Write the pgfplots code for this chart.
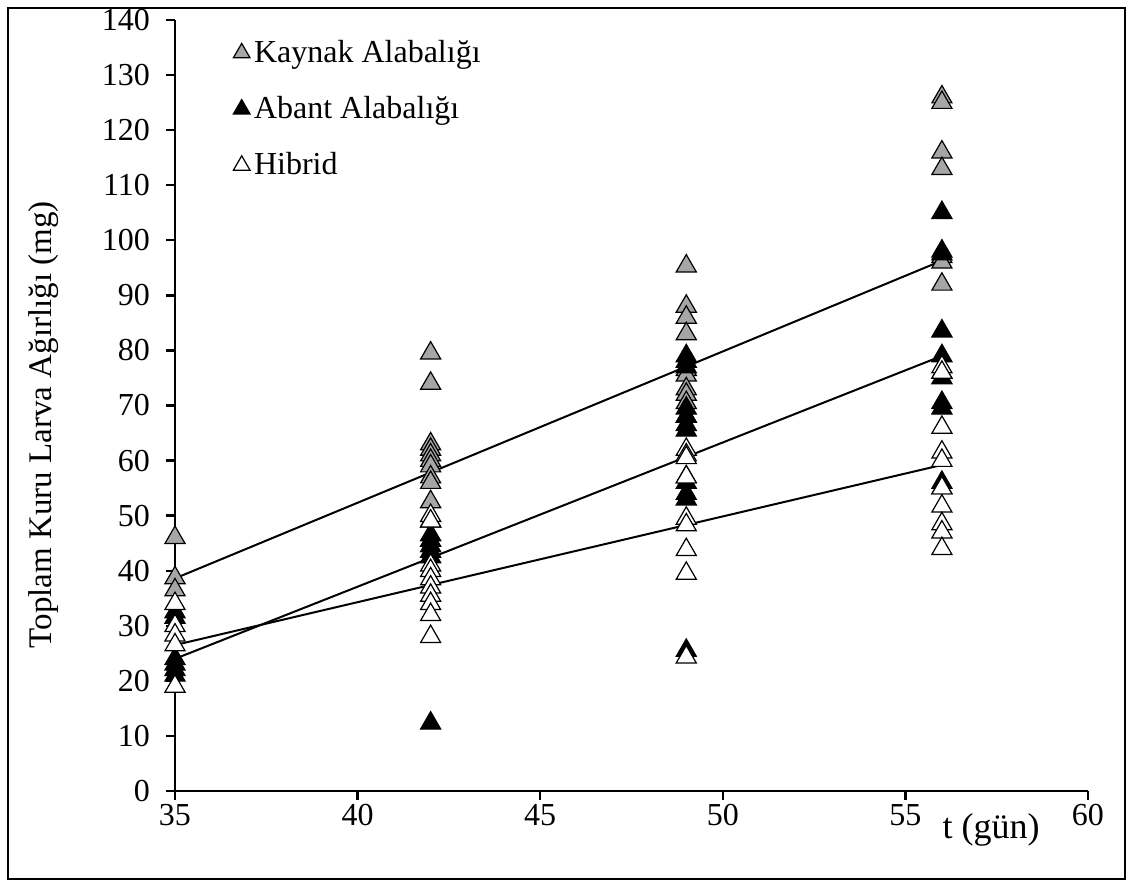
\documentclass[border=0pt]{standalone}
\usepackage{pgfplots}
\pgfplotsset{compat=1.18}
\usepackage{fontspec}
\setmainfont{Liberation Serif}
\definecolor{kgray}{RGB}{166,166,166}
\begin{document}
\begin{tikzpicture}
\useasboundingbox (-87.5pt,-48pt) rectangle (478.5pt,395.5pt);
\draw[line width=1pt] (-83.5pt,-44pt) rectangle (475pt,391.5pt);
\begin{axis}[
  at={(0pt,0pt)}, anchor=origin,
  scale only axis, width=456.5pt, height=385.5pt,
  xmin=35, xmax=60, ymin=0, ymax=140,
  xtick={35,40,45,50,55,60}, ytick={0,10,...,140},
  axis x line*=bottom, axis y line*=left,
  axis line style={line width=1.2pt,-},
  tick style={line width=1.2pt,black},
  tick align=outside, major tick length=4.5pt,
  /pgf/number format/assume math mode=true,
  ticklabel style={font=\fontsize{16}{19}\selectfont},
  yticklabel style={xshift=-4.5pt},
  xticklabel style={yshift=1.5pt},
  clip=false,
  ylabel={Toplam Kuru Larva Ağırlığı (mg)},
  xlabel={t (gün)},
  every axis y label/.style={at={(rel axis cs:0,0.475)}, rotate=90, anchor=center, yshift=65.5pt, font=\fontsize{16.5}{19}\selectfont},
  every axis x label/.style={at={(rel axis cs:0.894,0)}, anchor=center, yshift=-19.5pt, font=\fontsize{18}{21}\selectfont},
  legend style={at={(rel axis cs:0,1)}, anchor=north west, xshift=29pt, yshift=-8pt, draw=none, fill=none, font=\fontsize{16}{19}\selectfont, row sep=11.5pt, inner sep=0pt},
  legend cell align=left,
  legend image code/.code={\draw[#1, mark size=4.8pt] plot coordinates {(0pt,0pt)};},
]
\addplot[only marks, mark=triangle*, mark size=5.8pt, mark options={fill=kgray, draw=black, line width=0.6pt}] coordinates {
(35,46) (35,38.7) (35,36.5)
(42,79.5) (42,74) (42,63) (42,62) (42,61) (42,60) (42,59) (42,57) (42,56) (42,52.5)
(49,95.3) (49,88) (49,86) (49,83) (49,76.5) (49,75.5) (49,73) (49,72) (49,70.5) (49,68)
(56,126) (56,125) (56,116) (56,113) (56,97) (56,96) (56,92)
};
\addlegendentry{Kaynak Alabalığı}
\addplot[only marks, mark=triangle*, mark size=5.8pt, mark options={fill=black, draw=black, line width=0.6pt}] coordinates {
(35,32.5) (35,31.5) (35,24) (35,23) (35,22) (35,21)
(42,49) (42,46.5) (42,45.5) (42,44.5) (42,43.5) (42,42.5) (42,12.3)
(49,79) (49,78) (49,77) (49,69.5) (49,68) (49,66.5) (49,65.5) (49,57) (49,56) (49,54) (49,53) (49,25.5)
(56,105) (56,98) (56,97.5) (56,83.5) (56,79) (56,76) (56,75) (56,70.5) (56,69.5) (56,56) (56,55)
};
\addlegendentry{Abant Alabalığı}
\addplot[only marks, mark=triangle*, mark size=5.8pt, mark options={fill=white, draw=black, line width=0.6pt}] coordinates {
(35,34) (35,30) (35,28.3) (35,26.5) (35,19)
(42,50) (42,49) (42,41) (42,40) (42,38.5) (42,37) (42,35.5) (42,34) (42,32) (42,28)
(49,62) (49,61) (49,60.5) (49,57) (49,49.5) (49,48.3) (49,43.8) (49,39.5) (49,24.3)
(56,77) (56,76) (56,66) (56,61.5) (56,60) (56,55) (56,51.7) (56,48.5) (56,47) (56,44)
};
\addlegendentry{Hibrid}
\addplot[black, line width=1pt, forget plot] coordinates {(35,38.6) (56,96.3)};
\addplot[black, line width=1pt, forget plot] coordinates {(35,24) (56,79)};
\addplot[black, line width=1pt, forget plot] coordinates {(35,26.5) (56,59.2)};
\end{axis}
\end{tikzpicture}
\end{document}
